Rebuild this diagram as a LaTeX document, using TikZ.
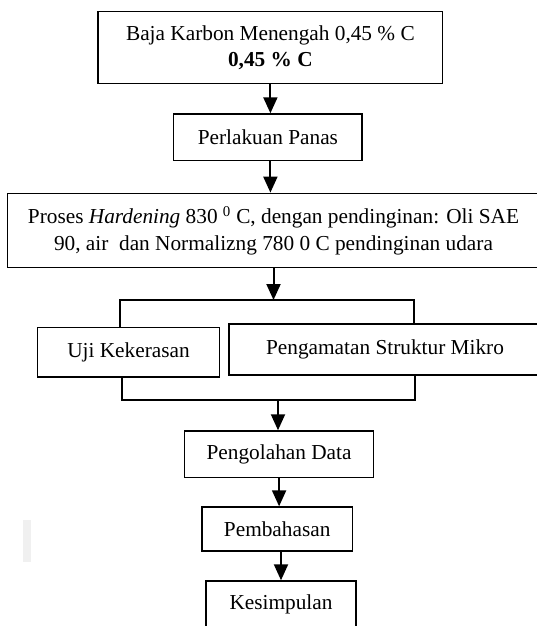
\documentclass[tikz,border=0pt]{standalone}
\usepackage{fontspec}
\setmainfont{Liberation Serif}
\usepackage{tikz}
\usetikzlibrary{positioning,arrows.meta,calc}

\begin{document}
\begin{tikzpicture}[x=1pt,y=-1pt,>={Triangle[length=16pt,width=14pt]},
		every node/.style={font=\fontsize{21.3}{26.7}\selectfont},
		blok/.style={draw,line width=1.4pt,inner sep=0pt,align=center},
		alur/.style={->,line width=2pt},
		garis/.style={line width=1.4pt},
		]
		\useasboundingbox (0,0) rectangle (536,626);
		
		% Tahapan
		\node[blok,minimum width=344.7pt,minimum height=72pt] (baja) at (270.4,47.7)
		{Baja Karbon Menengah 0,45 \% C\\ \textbf{0,45 \% C}};
		
		\node[blok,minimum width=188.3pt,minimum height=46.7pt] (panas) at (267.9,137.3)
		{Perlakuan Panas};
		
		\node[blok,minimum width=532pt,minimum height=74.4pt] (proses) at (273.5,230.5)
		{Proses \textit{Hardening} 830 \textsuperscript{0} C, dengan pendinginan: Oli SAE\\
			90, air\ \ dan Normalizng 780 0 C pendinginan udara};
		
		\node[blok,minimum width=182pt,minimum height=49.3pt] (uji) at (128.5,352.3)
		{Uji Kekerasan};
		
		\node[blok,minimum width=312pt,minimum height=51pt] (amat) at (385,349.5)
		{Pengamatan Struktur Mikro};
		
		\node[blok,minimum width=189pt,minimum height=46.7pt] (olah) at (279.1,454.3)
		{Pengolahan Data};
		
		\node[blok,minimum width=150.5pt,minimum height=44pt] (bahas) at (277.2,529)
		{Pembahasan};
		
		\node[blok,minimum width=150pt,minimum height=47pt] (simpul) at (281,604.5)
		{Kesimpulan};
		
		% Percabangan
		\coordinate (bagiL) at (120,300);
		\coordinate (bagiR) at (414,300);
		\coordinate (gabungL) at (122,400);
		\coordinate (gabungR) at (415,400);
		\coordinate (gabung) at (278,400);
		
		\draw[garis] (bagiL |- uji.north) -- (bagiL) -- (bagiR) -- (bagiR |- amat.north);
		\draw[garis] (gabungL |- uji.south) -- (gabungL) -- (gabungR) -- (gabungR |- amat.south);
		
		\draw[alur] (baja.south) -- (baja.south |- panas.north);
		\draw[alur] (panas.south -| baja.south) -- (baja.south |- proses.north);
		\draw[alur] (proses.south) -- (proses.south |- bagiL);
		\draw[alur] (gabung) -- (gabung |- olah.north);
		\draw[alur] (olah.south) -- (olah.south |- bahas.north);
		\draw[alur] (bahas.south -| simpul.north) -- (simpul.north);
		
		% bercak abu-abu
		\fill[gray!12] (23,520) rectangle (31,562);
		
	\end{tikzpicture}
\end{document}
